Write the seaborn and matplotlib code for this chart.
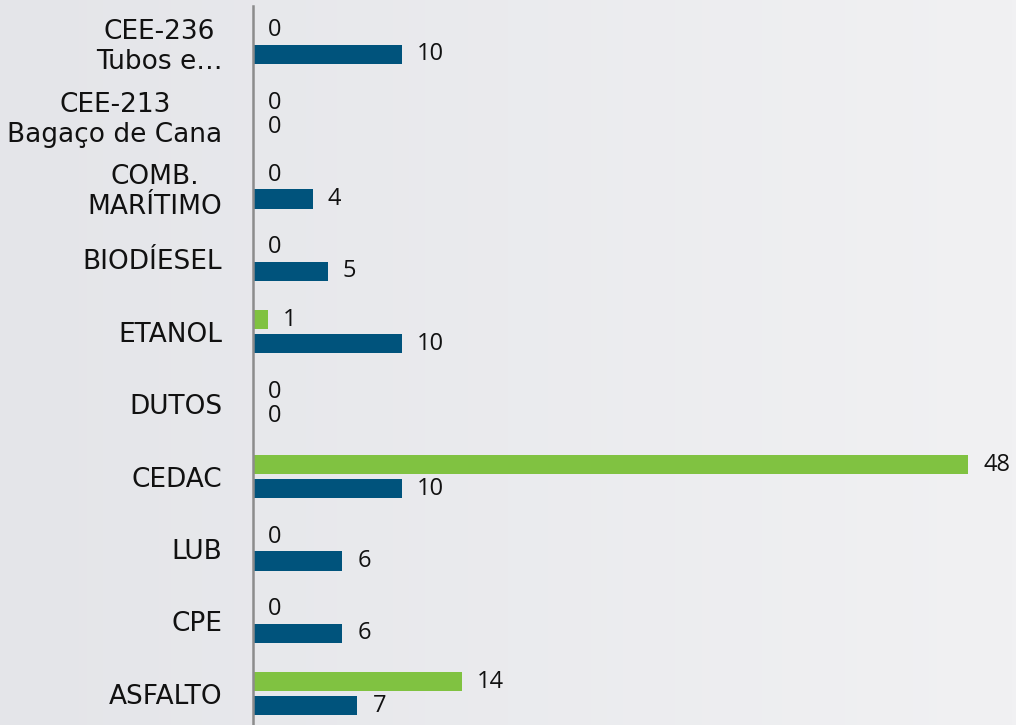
import numpy as np
import pandas as pd
import matplotlib
matplotlib.use("Agg")
import matplotlib.pyplot as plt
import seaborn as sns
from matplotlib.colors import LinearSegmentedColormap

categories = ["CEE-236\nTubos e…", "CEE-213\nBagaço de Cana", "COMB.\nMARÍTIMO", "BIODÍESEL",
              "ETANOL", "DUTOS", "CEDAC", "LUB", "CPE", "ASFALTO"]
series_names = ["Verde", "Azul"]
green_values = [0, 0, 0, 0, 1, 0, 48, 0, 0, 14]
blue_values = [10, 0, 4, 5, 10, 0, 10, 6, 6, 7]
colors = ["#80c241", "#00537c"]

df = pd.DataFrame({
    "cat": categories * 2,
    "serie": [series_names[0]] * len(categories) + [series_names[1]] * len(categories),
    "val": green_values + blue_values,
})

sns.set_theme(style="white")
W, H = 1016, 725
fig = plt.figure(figsize=(W / 100, H / 100), dpi=100)

# background gradient
bg = fig.add_axes([0, 0, 1, 1])
grad = np.linspace(0, 1, 256)[None, :]
cmap = LinearSegmentedColormap.from_list("bg", ["#e4e5e9", "#f1f1f3"])
bg.imshow(grad, aspect="auto", cmap=cmap, extent=[0, 1, 0, 1])
bg.set_axis_off()

left = 253 / W
ax = fig.add_axes([left, -5 / H, 1 - left, (H - 1) / H])
ax.patch.set_alpha(0)
sns.barplot(data=df, y="cat", x="val", hue="serie", order=categories,
            hue_order=series_names, palette=colors, orient="h",
            width=0.66, gap=0.2, dodge=True, legend=False, ax=ax, saturation=1,
            linewidth=0)

ax.set_xlim(0, (W - 253) / 14.9)
ax.set_ylim(9.5, -0.5)
ax.set_xlabel("")
ax.set_ylabel("")
ax.set_xticks([])
for s in ["top", "right", "bottom"]:
    ax.spines[s].set_visible(False)
ax.spines["left"].set_color("#8c8c8c")
ax.spines["left"].set_linewidth(1.8)
ax.tick_params(axis="y", length=0, pad=22)
for lab in ax.get_yticklabels():
    lab.set_fontsize(19)
    lab.set_fontfamily("DejaVu Sans")
    lab.set_color("#111111")
    lab.set_multialignment("center")

for cont in ax.containers:
    ax.bar_label(cont, labels=[f"{v:g}" for v in cont.datavalues], padding=11,
                 fontsize=17, family="Open Sans", color="#111111")

fig.savefig("out.png", dpi=100)
